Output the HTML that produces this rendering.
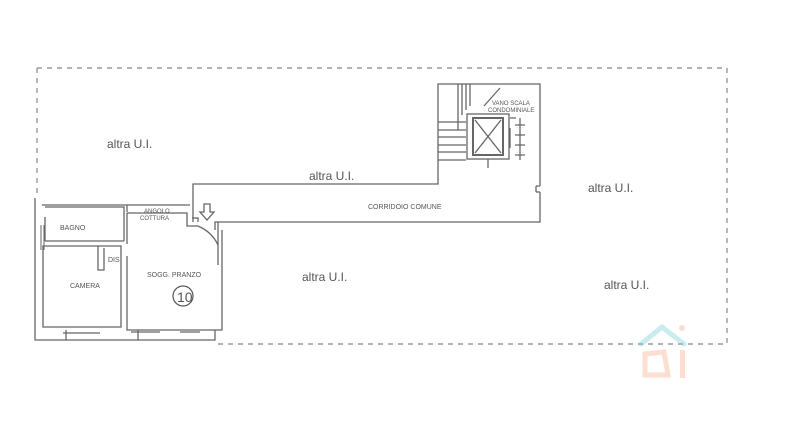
<!DOCTYPE html>
<html><head><meta charset="utf-8"><style>
html,body{margin:0;padding:0;background:#fff;width:800px;height:425px;overflow:hidden}
svg{display:block}
text{font-family:"Liberation Sans",sans-serif;fill:#555}
</style></head><body>
<svg width="800" height="425" viewBox="0 0 800 425">
<g fill="none" stroke="#888" stroke-width="1.2" stroke-dasharray="5,5">
<path d="M37 68 H727 V344 H215"/>
<path d="M37 68 V198"/>
</g>
<g fill="none" stroke="#666" stroke-width="1.3">
<!-- corridor & stair -->
<path d="M193 222 V184 H438 V84 H540 V186"/>
<path d="M540 192 V222 H215 V230"/>
<path d="M536 186 H540 M536 192 H540 M536 186 V192"/>
<!-- stair block -->
<path d="M458 84 V130 M462 84 V115 M466 84 V110 M470 84 V106"/>
<path d="M438 122 H466 M438 130 H466 M438 137 H466 M438 145 H466 M438 152 H466 M438 160 H466"/>
<rect x="467" y="114" width="42" height="45"/>
<rect x="473" y="118" width="30" height="37" stroke-width="2"/>
<path d="M475 120 L501 153 M501 120 L475 153"/>
<path d="M488 159 V168 M510 118 H516 M510 128 V148"/>
<path d="M520 118 V160 M515 125 H525 M515 135 H525 M515 145 H525 M515 155 H525"/>
<path d="M484 106 L500 88"/>
<!-- apartment -->
<path d="M35 198 V340 H215 V330"/>
<path d="M42 205 H190 M127 205 V212 M192 218 H198 V222"/>
<path d="M45 217 V241 M45 207 H124 V241 M45 241 H124"/>
<path d="M43 246 H121 V327 H43 Z"/>
<path d="M98 246 V270 H104 V248"/>
<path d="M127 213 H187 V226 H198 M127 213 V244 M127 256 V330 H222 V230 M218 222 V265"/>
<path d="M198 226 Q212 232 218 245"/>
<path d="M66 330 V340 M63 333 H100 M138 330 V340 M131 332 H160 M180 332 H200"/>
<path d="M41 225 V250 M44 225 V250" stroke-width="1"/>
<path d="M204 204 V212 H200 L207 220 L214 212 H210 V204 Z"/>
</g>
<circle cx="183" cy="296" r="10" fill="none" stroke="#555" stroke-width="1.2"/>
<text x="177" y="302" font-size="14" fill="#444">10</text>
<g font-size="12">
<text x="107" y="148">altra U.I.</text>
<text x="309" y="180">altra U.I.</text>
<text x="588" y="192">altra U.I.</text>
<text x="302" y="281">altra U.I.</text>
<text x="604" y="289">altra U.I.</text>
</g>
<g font-size="7">
<text x="368" y="209">CORRIDOIO COMUNE</text>
<text x="60" y="230">BAGNO</text>
<text x="70" y="288">CAMERA</text>
<text x="108" y="262">DIS</text>
<text x="147" y="277">SOGG. PRANZO</text>
<text x="144" y="213" font-size="6">ANGOLO</text>
<text x="140" y="220" font-size="6">COTTURA</text>
<text x="492" y="105" font-size="6">VANO SCALA</text>
<text x="488" y="112" font-size="6">CONDOMINIALE</text>
</g>
<g opacity="0.35">
<path d="M641 344 L662 327 L684 344" fill="none" stroke="#6cc9d0" stroke-width="5" stroke-linecap="round" stroke-linejoin="round"/>
<circle cx="682" cy="328" r="3" fill="#f7a67a"/>
<path d="M645 354 L664 352 L668 375 L645 375 Z" fill="none" stroke="#f7a67a" stroke-width="5"/>
<rect x="680" y="350" width="5" height="28" fill="#f7a67a"/>
</g>
</svg>
</body></html>
